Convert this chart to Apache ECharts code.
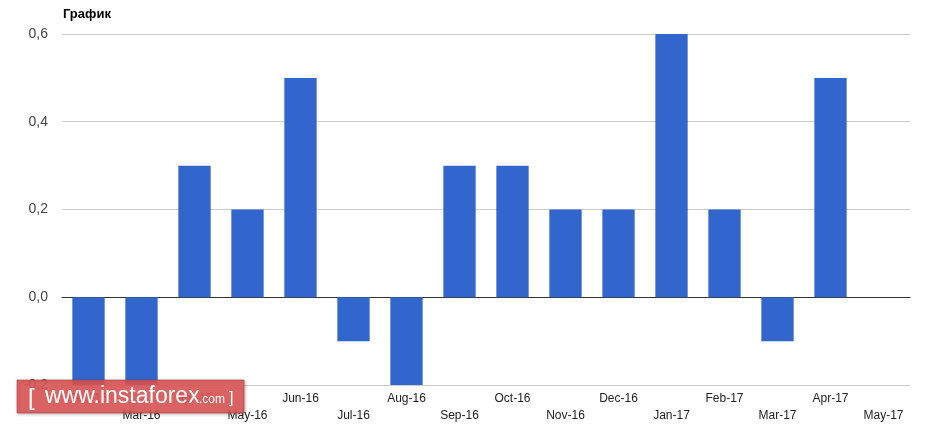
<!DOCTYPE html>
<html>
<head>
<meta charset="utf-8">
<script src="https://cdn.jsdelivr.net/npm/echarts@6/dist/echarts.min.js"></script>
<style>
html,body{margin:0;padding:0;background:#fff;}
#main{width:934px;height:431px;}
</style>
</head>
<body>
<div id="main"></div>
<script>
const categories = ['Feb-16','Mar-16','Apr-16','May-16','Jun-16','Jul-16','Aug-16','Sep-16','Oct-16','Nov-16','Dec-16','Jan-17','Feb-17','Mar-17','Apr-17','May-17'];
const values = [-0.2,-0.2,0.3,0.2,0.5,-0.1,-0.2,0.3,0.3,0.2,0.2,0.6,0.2,-0.1,0.5,null];
const yTicks = [-0.2, 0, 0.2, 0.4, 0.6];

const wmFont = 'Arial, Liberation Sans';
const chart = echarts.init(document.getElementById('main'));
chart.setOption({
  animation: false,
  backgroundColor: '#fff',
  title: {
    text: 'График',
    left: 58, top: 3,
    textStyle: {fontFamily: 'Arial, Liberation Sans', fontSize: 13, fontWeight: 'bold', color: '#000'}
  },
  grid: {left: 62, right: 24, top: 34, bottom: 46},
  xAxis: {
    type: 'category',
    data: categories,
    axisTick: {show: false},
    axisLine: {onZero: true, lineStyle: {color: '#333', width: 1}},
    axisLabel: {
      interval: 0,
      margin: 5,
      lineHeight: 17,
      fontFamily: 'Arial, Liberation Sans',
      fontSize: 12,
      color: '#222',
      formatter: (v, i) => (i % 2 === 0 ? v : '\n' + v)
    }
  },
  yAxis: {
    type: 'value',
    min: yTicks[0],
    max: yTicks[yTicks.length - 1],
    interval: 0.2,
    axisLine: {show: false},
    axisTick: {show: false},
    splitLine: {lineStyle: {color: '#ccc'}},
    axisLabel: {
      margin: 14,
      fontFamily: 'Arial, Liberation Sans',
      fontSize: 14,
      color: '#444',
      formatter: v => (Math.abs(v) < 1e-9 ? 0 : v).toFixed(1).replace('.', ',')
    }
  },
  series: [{
    type: 'bar',
    data: values,
    barWidth: '61%',
    itemStyle: {color: '#3366cc'}
  }],
  graphic: {
    z: 100,
    elements: [{
      type: 'rect',
      z: 100,
      shape: {x: 17, y: 380, width: 227, height: 33},
      style: {fill: 'rgba(222,85,85,0.88)', stroke: 'rgba(180,60,60,0.6)', lineWidth: 1, shadowBlur: 3, shadowColor: 'rgba(0,0,0,0.3)', shadowOffsetX: 1, shadowOffsetY: 1}
    }, {
      type: 'text', z: 101, x: 28, y: 398,
      style: {text: '[', font: '300 24px ' + wmFont, fill: '#fff', verticalAlign: 'middle'}
    }, {
      type: 'text', z: 101, x: 45, y: 397,
      style: {text: 'www.instaforex', font: '23px ' + wmFont, fill: '#fff', verticalAlign: 'middle'}
    }, {
      type: 'text', z: 101, x: 199, y: 400,
      style: {text: '.com', font: '12px ' + wmFont, fill: '#fff', verticalAlign: 'middle'}
    }, {
      type: 'text', z: 101, x: 229, y: 399,
      style: {text: ']', font: '16px ' + wmFont, fill: '#fff', verticalAlign: 'middle'}
    }]
  }
});
</script>
</body>
</html>
